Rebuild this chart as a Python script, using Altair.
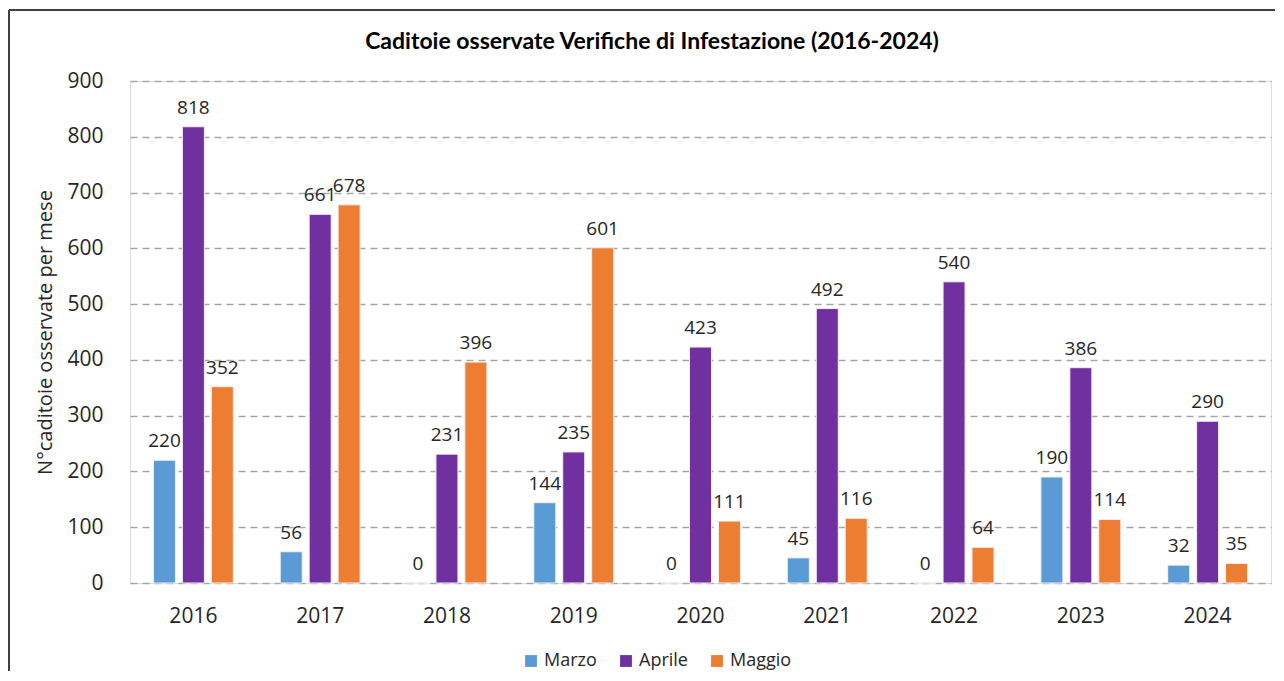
import altair as alt
import pandas as pd

years = ["2016", "2017", "2018", "2019", "2020", "2021", "2022", "2023", "2024"]
months = ["Marzo", "Aprile", "Maggio"]
marzo = [220, 56, 0, 144, 0, 45, 0, 190, 32]
aprile = [818, 661, 231, 235, 423, 492, 540, 386, 290]
maggio = [352, 678, 396, 601, 111, 116, 64, 114, 35]
colors = ["#5B9BD5", "#7030A0", "#ED7D31"]
y_ticks = [0, 100, 200, 300, 400, 500, 600, 700, 800, 900]
title_text = "Caditoie osservate Verifiche di Infestazione (2016-2024)"

rows = []
for i, yr in enumerate(years):
    for m, vals in zip(months, [marzo, aprile, maggio]):
        rows.append({"anno": yr, "mese": m, "valore": vals[i]})
df = pd.DataFrame(rows)
df_title = pd.DataFrame({"t": [title_text]})

FONT = "Open Sans"
TFONT = "Lato"
W, H = 1141, 502

x_enc = alt.X("anno:N", sort=years, title=None,
              scale=alt.Scale(paddingInner=0.37, paddingOuter=0.185),
              axis=alt.Axis(labelFontSize=21, labelColor="#262626", labelPadding=22,
                            ticks=False, domain=False, labelAngle=0, labelFont=FONT))
xoff = alt.XOffset("mese:N", sort=months,
                   scale=alt.Scale(paddingInner=0.24, paddingOuter=0))
y_enc = alt.Y("valore:Q", title="N°caditoie osservate per mese",
              scale=alt.Scale(domain=[0, 900], nice=False),
              axis=alt.Axis(values=y_ticks, labelFontSize=21, labelColor="#262626",
                            labelPadding=27, ticks=False, domain=False,
                            titleFontSize=20, titleFontWeight="normal", titleColor="#262626",
                            titlePadding=11, titleFont=FONT, labelFont=FONT,
                            grid=True, gridDash=[7, 5], gridColor="#A6A6A6", gridWidth=1.5))

bars = alt.Chart(df).mark_bar(stroke="#F2EEF7", strokeWidth=1).encode(
    x=x_enc, xOffset=xoff, y=y_enc,
    color=alt.Color("mese:N", sort=months,
                    scale=alt.Scale(domain=months, range=colors),
                    legend=alt.Legend(title=None, orient="none", direction="horizontal",
                                      legendX=392, legendY=571, labelFontSize=18,
                                      labelFont=FONT, labelColor="#262626",
                                      symbolType="square", symbolSize=140,
                                      symbolStrokeWidth=0, columnPadding=20,
                                      labelOffset=4))
)

labels = alt.Chart(df).mark_text(baseline="bottom", dy=-9, fontSize=19,
                                 font=FONT, color="#262626").encode(
    x=alt.X("anno:N", sort=years), xOffset=alt.XOffset("mese:N", sort=months),
    y="valore:Q", text="valore:Q"
)

title = alt.Chart(df_title).mark_text(fontSize=23, font=TFONT, fontWeight="bold",
                                      color="#000000", align="center",
                                      baseline="middle").encode(
    x=alt.value(522), y=alt.value(-39), text="t:N"
)

border_left = alt.Chart(df_title).mark_rule(color="#404040", strokeWidth=2).encode(
    x=alt.value(-121), y=alt.value(-71), y2=alt.value(600)
)
border_top = alt.Chart(df_title).mark_rule(color="#404040", strokeWidth=2).encode(
    x=alt.value(-121), x2=alt.value(1160), y=alt.value(-71)
)

chart = alt.layer(bars, labels, title, border_left, border_top).properties(
    width=W, height=H,
    autosize=alt.AutoSizeParams(type="none"),
    padding={"left": 122, "top": 73, "right": 4, "bottom": 88},
).configure_view(stroke=None).configure(background="white")

chart.save("out.html", embed_options={"renderer": "svg", "actions": False})
